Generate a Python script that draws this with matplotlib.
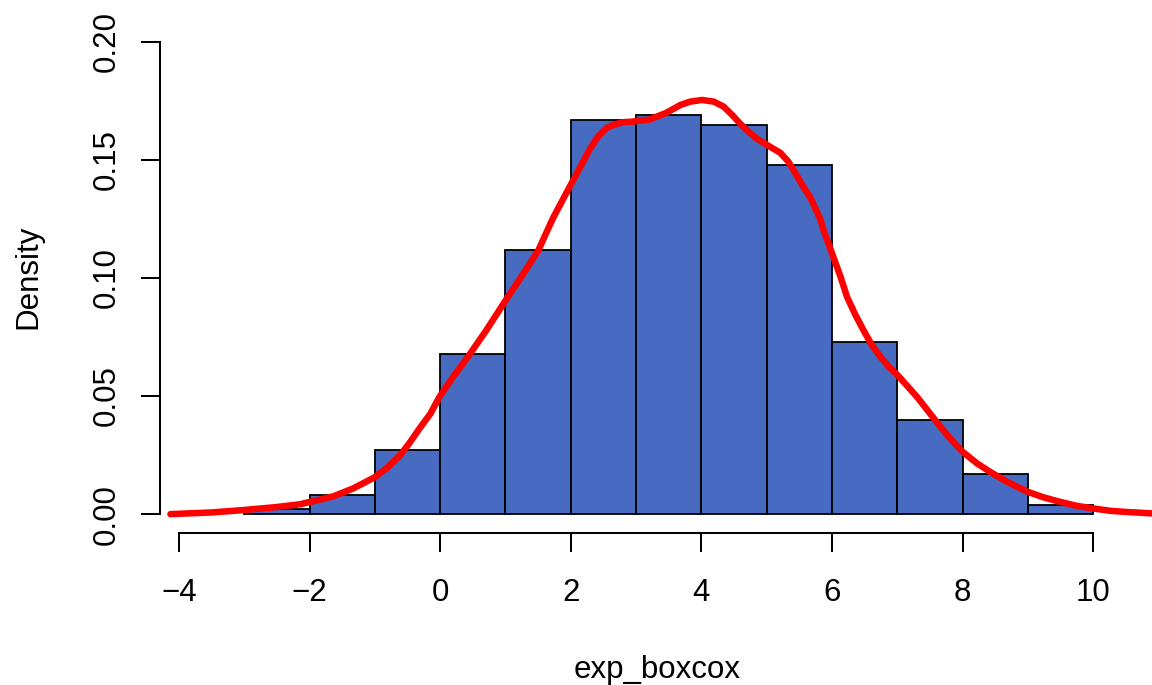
import matplotlib
matplotlib.use("Agg")
import matplotlib.pyplot as plt

plt.rcParams['font.family'] = ['Liberation Sans', 'DejaVu Sans']

# histogram of exp_boxcox (density scale), unit-width bins
bin_edges = [-3, -2, -1, 0, 1, 2, 3, 4, 5, 6, 7, 8, 9, 10]
bin_density = [0.002, 0.008, 0.027, 0.068, 0.112, 0.167, 0.169,
               0.165, 0.148, 0.073, 0.040, 0.017, 0.004]

# kernel density estimate of the same variable
kde_x = [-4.13, -3.5, -3.02, -2.5, -2.14, -2.02, -1.89, -1.63, -1.33, -1.01,
         -0.82, -0.61, -0.46, -0.31, -0.15, -0.01, 0.20, 0.41, 0.71, 0.99,
         1.23, 1.5, 1.68, 1.74, 1.99, 2.30, 2.42, 2.55, 2.68, 2.80, 2.94,
         3.06, 3.19, 3.32, 3.45, 3.57, 3.68, 3.83, 4.01, 4.19, 4.34, 4.47,
         4.59, 4.72, 4.85, 5.05, 5.21, 5.33, 5.41, 5.56, 5.67, 5.82, 5.87,
         6.0, 6.13, 6.23, 6.36, 6.48, 6.61, 6.74, 6.87, 7.0, 7.30, 7.66,
         7.81, 8.0, 8.22, 8.42, 8.68, 9.0, 9.24, 9.49, 9.75, 10.0, 10.26,
         10.51, 10.9]
kde_y = [0.0, 0.0007, 0.0017, 0.003, 0.0042, 0.0050, 0.0058, 0.0076, 0.0109,
         0.0155, 0.0194, 0.025, 0.0305, 0.0365, 0.0425, 0.0497, 0.0582, 0.066,
         0.078, 0.090, 0.1000, 0.1115, 0.1225, 0.126, 0.139, 0.155, 0.160,
         0.1636, 0.1651, 0.166, 0.1662, 0.1667, 0.167, 0.1684, 0.1698,
         0.1716, 0.1733, 0.1747, 0.1754, 0.1747, 0.1726, 0.1691, 0.1655,
         0.162, 0.159, 0.1556, 0.153, 0.1493, 0.1458, 0.1387, 0.134, 0.125,
         0.1203, 0.1105, 0.1006, 0.092, 0.0843, 0.078, 0.0716, 0.0667,
         0.0624, 0.0590, 0.0497, 0.037, 0.032, 0.0264, 0.0215, 0.0179,
         0.0137, 0.0094, 0.0071, 0.0052, 0.0035, 0.0024, 0.0014, 0.0009,
         0.0003]

x_ticks = [-4, -2, 0, 2, 4, 6, 8, 10]
y_ticks = [0.00, 0.05, 0.10, 0.15, 0.20]
y_tick_labels = ['0.00', '0.05', '0.10', '0.15', '0.20']

fs = 22.5

fig = plt.figure(figsize=(11.52, 6.85), dpi=100)
ax = fig.add_axes([160 / 1152, 152 / 685, 992 / 1152, 510 / 685])

ax.bar(bin_edges[:-1], bin_density, width=1, align='edge',
       color='#476BC0', edgecolor='black', linewidth=1.3)
ax.plot(kde_x, kde_y, color='#FF0000', linewidth=4.7,
        solid_capstyle='round', solid_joinstyle='round')

ax.set_xlim(-4.29, 10.90)
ax.set_ylim(-0.008, 0.208)

for side in ['top', 'right']:
    ax.spines[side].set_visible(False)
ax.spines['bottom'].set_bounds(-4, 10)
ax.spines['left'].set_bounds(0, 0.2)
for side in ['bottom', 'left']:
    ax.spines[side].set_linewidth(1.45)

ax.set_xticks(x_ticks)
ax.set_xticklabels([str(t).replace('-', '\u2212') for t in x_ticks])
ax.set_yticks(y_ticks)
ax.set_yticklabels(y_tick_labels, rotation=90, va='center')
ax.tick_params(axis='both', direction='out', length=13.7, width=1.45,
               labelsize=fs)
ax.tick_params(axis='x', pad=19)
ax.tick_params(axis='y', pad=14)

fig.text(657 / 1152, 7 / 685, 'exp_boxcox', fontsize=fs,
         ha='center', va='baseline')
fig.text(36 / 1152, (685 - 277) / 685, 'Density', fontsize=fs,
         rotation=90, rotation_mode='anchor', ha='center', va='baseline')

fig.savefig('out.png', dpi=100)
